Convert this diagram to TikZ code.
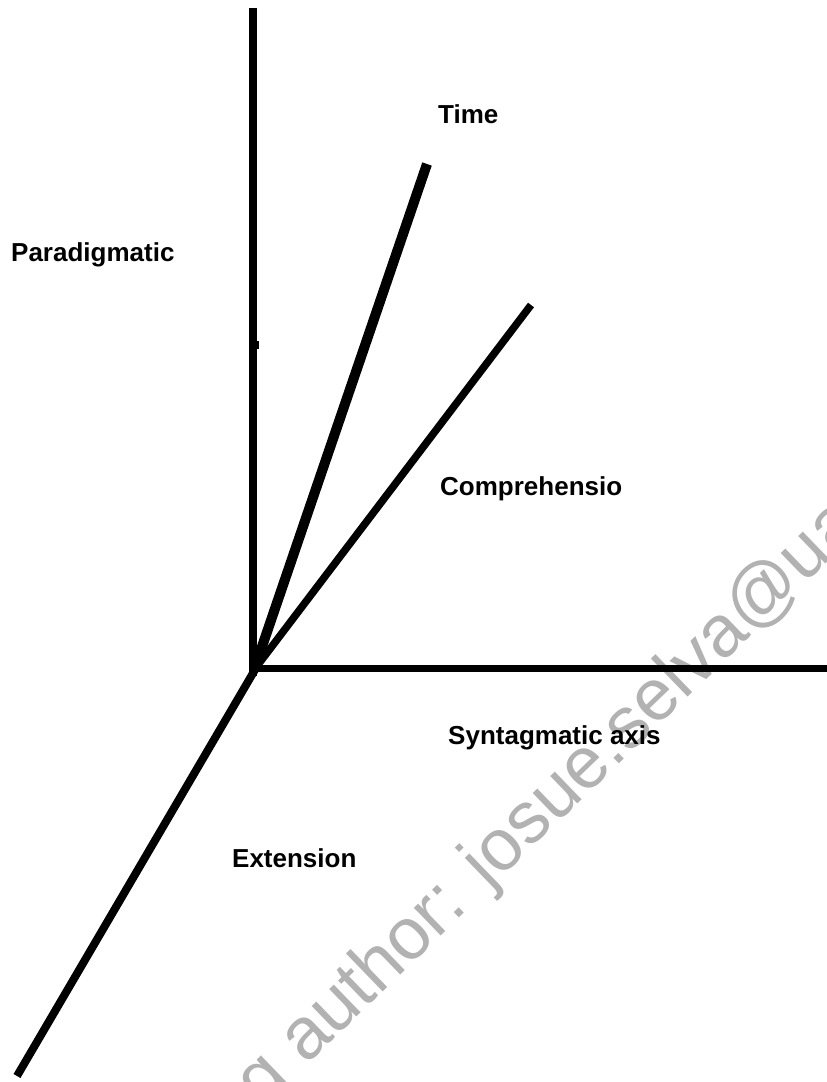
\documentclass[tikz,border=0pt]{standalone}
\usepackage{fontspec}
\setmainfont{Liberation Sans}
\begin{document}
\begin{tikzpicture}[x=1pt,y=-1pt,
  lbl/.style={inner sep=0pt,anchor=base west,font=\fontsize{26}{30}\selectfont\bfseries},
  axis/.style={line width=8pt,line cap=butt},
  wmark/.style={inner sep=0pt,anchor=base west,rotate=44,text=gray!60,font=\fontsize{73}{80}\selectfont}]
\useasboundingbox[fill=white] (0,0) rectangle (827,1082);
\begin{scope}
\clip (0,0) rectangle (827,1082);
\node[wmark] (wm) at (306,1066) {\llap{corresponding }author: josue.selva@ua.es};
\end{scope}
% coordinates
\coordinate (O) at (254,670);
\coordinate (Vtop) at (253,8);
\coordinate (Vbot) at (253,676);
\coordinate (Hl) at (250,668);
\coordinate (Hr) at (827,668);
\coordinate (Tend) at (427,164);
\coordinate (Cend) at (531,305);
\coordinate (Eend) at (17,1076);
% axes
\draw[axis] (Vtop) -- (Vbot);
\fill (249,341) rectangle (259,349);
\draw[axis,line width=7pt] (Hl) -- (Hr);
\draw[axis,line width=10pt] (O) -- (Tend);
\draw[axis,line width=7.5pt] (O) -- (Cend);
\draw[axis] (256,668) -- (Eend);
% labels
\node[lbl] (par) at (11,261) {Paradigmatic};
\node[lbl] (time) at (438,123) {Time};
\node[lbl] (comp) at (440,495) {Comprehensio};
\node[lbl] (syn) at (448,744) {Syntagmatic axis};
\node[lbl] (ext) at (232,867) {Extension};
\end{tikzpicture}
\end{document}
